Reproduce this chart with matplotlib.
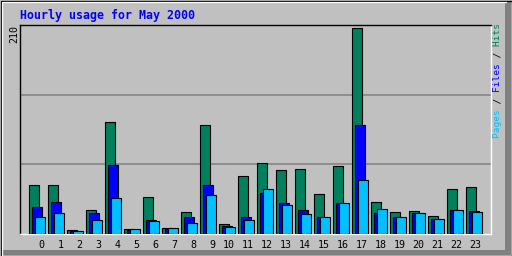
import matplotlib
matplotlib.use("Agg")
import matplotlib.pyplot as plt
from matplotlib.patches import Rectangle
from matplotlib.lines import Line2D
from matplotlib.transforms import Affine2D

# Hourly usage for May 2000
hours = list(range(24))
hits = [49, 49, 4, 24, 113, 5, 37, 6, 22, 110, 10, 58, 71, 64, 65, 40, 68, 207, 32, 22, 23, 18, 45, 47]
files = [27, 32, 3, 21, 69, 4, 14, 5, 17, 49, 8, 17, 41, 31, 24, 17, 31, 110, 21, 17, 21, 15, 24, 23]
pages = [17, 21, 3, 14, 36, 5, 13, 6, 11, 39, 7, 14, 45, 29, 20, 17, 31, 54, 25, 17, 21, 15, 24, 22]
y_max = 210

hit_col = '#00805C'
file_col = '#0000FF'
page_col = '#00C0FF'
bg = '#C0C0C0'
mono = 'DejaVu Sans Mono'

W, H = 512, 256
fig = plt.figure(figsize=(W / 100, H / 100), dpi=100)
fig.patch.set_facecolor(bg)
px = Affine2D().scale(1 / W, 1 / H) + fig.transFigure  # pixel coords, origin bottom-left

# raised bevel around the image
fig.add_artist(Rectangle((1, 1), 510, 5, transform=px, facecolor='#808080', edgecolor='none'))
fig.add_artist(Rectangle((505, 1), 6, 254, transform=px, facecolor='#808080', edgecolor='none'))
fig.add_artist(Line2D([1.5, 1.5, 506], [1, 254.5, 254.5], transform=px, color='white', lw=0.9))
fig.add_artist(Rectangle((0.5, 0.5), 511, 255, transform=px, fill=False, edgecolor='black', lw=0.9))

ax = fig.add_axes([20 / W, 22 / H, 471 / W, 209 / H])
ax.set_facecolor(bg)

# bars: each hour slot is 19 px, bars 10 px wide, offset by 3 px
u = 1 / 19
x = [h for h in hours]
ax.bar(x, hits, width=10 * u, align='edge', color=hit_col, edgecolor='black', lw=0.8, zorder=3)
ax.bar([h + 3 * u for h in hours], files, width=10 * u, align='edge', color=file_col,
       edgecolor='black', lw=0.8, zorder=4)
ax.bar([h + 6 * u for h in hours], pages, width=10 * u, align='edge', color=page_col,
       edgecolor='black', lw=0.8, zorder=5)

for g in (y_max / 3, 2 * y_max / 3):
    ax.axhline(g, color='#808080', lw=1.1, zorder=1)

ax.set_xlim(-9.3 * u, 461.7 * u)
ax.set_ylim(0, y_max)
ax.set_yticks([])
ax.set_xticks([h + (12 if h < 10 else 9) * u for h in hours])
ax.set_xticklabels([str(h) for h in hours], family=mono, fontsize=7.2)
ax.tick_params(axis='x', length=0, pad=4)

for s in ('top', 'left'):
    ax.spines[s].set_color('black')
for s in ('bottom', 'right'):
    ax.spines[s].set_color('white')
for s in ax.spines.values():
    s.set_linewidth(1.0)

fig.text(20 / W, 1 - 15 / H, 'Hourly usage for May 2000', family=mono, fontweight='bold',
         fontsize=8.4, color='#0000FF', ha='left', va='center')
fig.text(14.5 / W, 1 - 25 / H, str(y_max), family=mono, fontsize=7.2, rotation=90,
         ha='center', va='top', color='black')

# right-hand legend text, monospace pieces overlaid
label = 'Pages / Files / Hits'
parts = [('Pages', page_col), ('/', 'black'), ('Files', file_col), ('/', 'black'), ('Hits', hit_col)]
pos = 0
for word, col in parts:
    i = label.index(word, pos)
    s = ' ' * i + word + ' ' * (len(label) - i - len(word))
    fig.text(498 / W, 1 - 80.5 / H, s, family=mono, fontsize=6.8, rotation=90,
             ha='center', va='center', color=col)
    pos = i + len(word)

fig.savefig('out.png', dpi=100, facecolor=bg)
